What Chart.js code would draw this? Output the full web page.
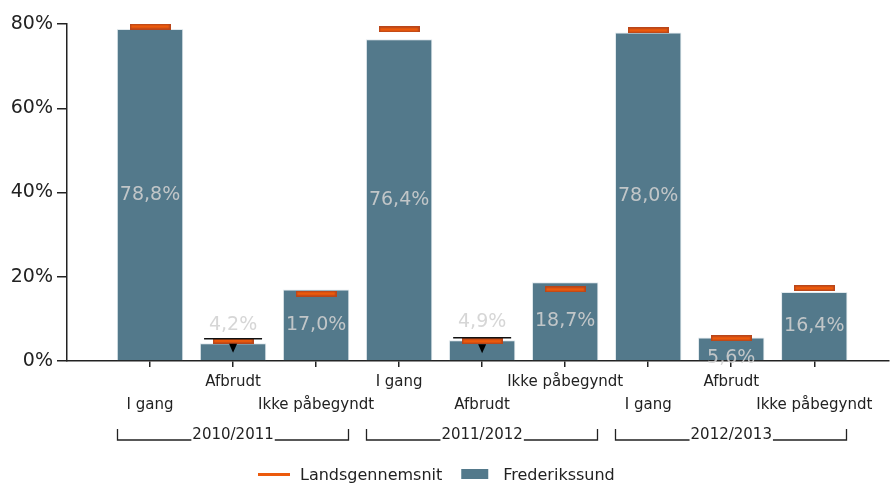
<!DOCTYPE html>
<html><head><meta charset="utf-8">
<script src="https://cdn.jsdelivr.net/npm/chart.js@4/dist/chart.umd.min.js"></script>
<style>html,body{margin:0;padding:0;background:#fff;}</style>
</head><body>
<canvas id="c" width="891" height="485" style="display:block;width:891px;height:485px"></canvas>
<script>
// ---- data ----
const categories = ['I gang','Afbrudt','Ikke påbegyndt','I gang','Afbrudt','Ikke påbegyndt','I gang','Afbrudt','Ikke påbegyndt'];
const groups = ['2010/2011','2011/2012','2012/2013'];
const frederikssund = [78.8, 4.2, 17.0, 76.4, 4.9, 18.7, 78.0, 5.6, 16.4];
const landsgennemsnit = [79.4, 4.8, 16.0, 78.7, 4.7, 17.0, 78.5, 5.4, 17.3];
const blackMark = [null, 5.3, null, null, 5.5, null, null, null, null];
const lowerFlag = [false, true, false, false, true, false, false, false, false];
const yTicks = [0, 20, 40, 60, 80];

const FONT = '"DejaVu Sans", Verdana, sans-serif';
const BAR = '#53798b';
const ORANGE = '#ec5a0c';
const TXT = '#222';

// marker image (orange bar)
const mk = document.createElement('canvas');
mk.width = 41; mk.height = 6;
(function(){
  const c = mk.getContext('2d');
  c.fillStyle = '#b9461a'; c.fillRect(0,0,41,6);
  c.fillStyle = ORANGE; c.fillRect(1.5,1.5,38,3);
})();

const pts = arr => arr.map((v,i) => ({x:i, y:v}));
const fmt = v => v.toFixed(1).replace('.', ',') + '%';

const bgPlugin = {
  id: 'bg',
  beforeDraw(chart) {
    const ctx = chart.ctx; ctx.save(); ctx.fillStyle = '#fff';
    ctx.fillRect(0,0,chart.width,chart.height); ctx.restore();
  }
};

const labelPlugin = {
  id: 'vals',
  afterDatasetsDraw(chart) {
    const ctx = chart.ctx;
    const barMeta = chart.getDatasetMeta(2);
    const mkMeta = chart.getDatasetMeta(1);
    ctx.save();
    ctx.fillStyle = '#000';
    mkMeta.data.forEach((el, i) => {
      if (!lowerFlag[i]) return;
      const x = el.x, y = el.y + 3;
      ctx.beginPath(); ctx.moveTo(x - 4, y); ctx.lineTo(x + 4, y); ctx.lineTo(x, y + 9); ctx.closePath(); ctx.fill();
    });
    ctx.font = '19px ' + FONT;
    ctx.textAlign = 'center'; ctx.textBaseline = 'middle';
    ctx.fillStyle = 'rgba(208,208,208,0.88)';
    barMeta.data.forEach((el, i) => {
      const v = frederikssund[i];
      let y;
      if (v < 5) y = el.y - 18;
      else if (v < 7) y = el.base - 2;
      else y = (el.y + el.base) / 2;
      ctx.fillText(fmt(v), el.x, y);
    });
    ctx.restore();
  }
};

const groupPlugin = {
  id: 'groups',
  afterDraw(chart) {
    const ctx = chart.ctx, xs = chart.scales.x;
    ctx.save();
    ctx.strokeStyle = TXT; ctx.lineWidth = 1.3;
    ctx.fillStyle = TXT;
    ctx.font = '15px ' + FONT;
    ctx.textAlign = 'center'; ctx.textBaseline = 'middle';
    const yl = 440, yt = 429;
    groups.forEach((g, gi) => {
      const l = Math.round(xs.getPixelForValue(gi*3 - 0.4)) + 0.5;
      const r = Math.round(xs.getPixelForValue(gi*3 + 2 + 0.4)) - 0.5;
      const cx = xs.getPixelForValue(gi*3 + 1);
      const tw = ctx.measureText(g).width;
      ctx.beginPath();
      ctx.moveTo(l, yt); ctx.lineTo(l, yl); ctx.lineTo(cx - tw/2 - 1, yl);
      ctx.moveTo(cx + tw/2 + 1, yl); ctx.lineTo(r, yl); ctx.lineTo(r, yt);
      ctx.stroke();
      ctx.fillText(g, cx, 435);
    });
    // legend
    ctx.font = '16px ' + FONT;
    ctx.textAlign = 'left';
    const ly = 476;
    let x = 258;
    ctx.strokeStyle = ORANGE; ctx.lineWidth = 3;
    ctx.beginPath(); ctx.moveTo(x, ly - 1.5); ctx.lineTo(x + 32, ly - 1.5); ctx.stroke();
    x += 42;
    ctx.fillStyle = TXT;
    const t1 = chart.data.datasets[1].label;
    ctx.fillText(t1, x, ly);
    x += ctx.measureText(t1).width + 19;
    ctx.fillStyle = BAR; ctx.fillRect(x, 469, 27, 10);
    x += 42;
    ctx.fillStyle = TXT;
    ctx.fillText(chart.data.datasets[2].label, x, ly);
    ctx.restore();
  }
};

new Chart(document.getElementById('c'), {
  type: 'bar',
  data: {
    datasets: [
      { type: 'line', label: '', data: pts(blackMark), showLine: false,
        pointStyle: 'line', pointRadius: 29, pointHoverRadius: 29,
        borderColor: '#111', pointBorderColor: '#111', pointBorderWidth: 1.5, order: 0 },
      { type: 'line', label: 'Landsgennemsnit', data: pts(landsgennemsnit), showLine: false,
        pointStyle: mk, borderColor: ORANGE, backgroundColor: ORANGE, order: 1 },
      { type: 'bar', label: 'Frederikssund', data: pts(frederikssund),
        backgroundColor: BAR, borderColor: 'rgba(200,215,222,0.55)', borderWidth: 1,
        barPercentage: 0.8, categoryPercentage: 1.0, order: 2 }
    ]
  },
  options: {
    responsive: false,
    animation: false,
    devicePixelRatio: 1,
    layout: { autoPadding: false, padding: { top: 24, left: 0, right: 2, bottom: 0 } },
    plugins: { legend: { display: false }, tooltip: { enabled: false } },
    scales: {
      x: {
        type: 'linear', offset: false, min: -1, max: 8.9,
        afterBuildTicks: s => { s.ticks = categories.map((c, i) => ({ value: i })); },
        afterFit: s => { s.height = 124; s.paddingLeft = 0; s.paddingRight = 0; },
        grid: { drawOnChartArea: false, offset: false, tickLength: 6, color: TXT, lineWidth: 1.5 },
        border: { color: TXT, width: 1.5 },
        ticks: {
          autoSkip: false, maxRotation: 0, minRotation: 0, padding: 4,
          color: TXT, font: { family: FONT, size: 15, lineHeight: 1.53 },
          callback: v => (v % 2 === 1) ? categories[v] : ['', categories[v]]
        }
      },
      y: {
        min: 0, max: 80,
        afterBuildTicks: s => { s.ticks = yTicks.map(v => ({ value: v })); },
        afterFit: s => { s.width = 67; s.paddingTop = 0; s.paddingBottom = 0; },
        grid: { drawOnChartArea: false, tickLength: 10, color: TXT, lineWidth: 1.5 },
        border: { color: TXT, width: 1.5 },
        ticks: { padding: 4, color: TXT, font: { family: FONT, size: 19 }, callback: v => v + '%' }
      }
    }
  },
  plugins: [bgPlugin, labelPlugin, groupPlugin]
});
</script>
</body></html>
